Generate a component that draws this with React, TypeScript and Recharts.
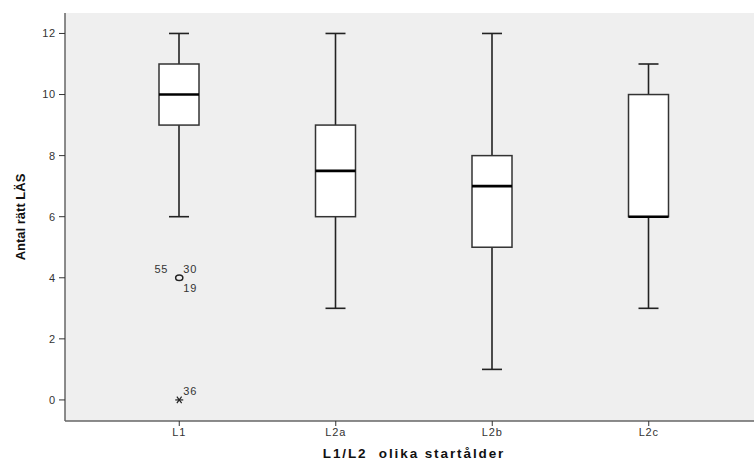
import { ComposedChart, Bar, Scatter, XAxis, YAxis, CartesianGrid } from 'recharts';

// SPSS-style boxplot: Antal rätt LÄS per startålder-grupp
const groups = ['L1', 'L2a', 'L2b', 'L2c'];
const whiskerLow = [6, 3, 1, 3];
const quart1 = [9, 6, 5, 6];
const medians = [10, 7.5, 7, 6];
const quart3 = [11, 9, 8, 10];
const whiskerHigh = [12, 12, 12, 11];
const outlierValues = [4, null, null, null];
const outlierCases = [['55', '30', '19'], [], [], []];
const extremeValues = [0, null, null, null];
const extremeCases = [['36'], [], [], []];
const yTicks = [0, 2, 4, 6, 8, 10, 12];

const data = groups.map((g, i) => ({
  group: g,
  range: [whiskerLow[i], whiskerHigh[i]],
  low: whiskerLow[i],
  q1: quart1[i],
  median: medians[i],
  q3: quart3[i],
  high: whiskerHigh[i],
  outlier: outlierValues[i],
  outlierCases: outlierCases[i],
  extreme: extremeValues[i],
  extremeCases: extremeCases[i],
}));

const font = '"Liberation Sans", Arial, sans-serif';
const ink = '#222';
const caseText = { fontFamily: font, fontSize: 11, fill: '#333', letterSpacing: 0.8 };

function BoxShape(props: any) {
  const { x, y, width, height, payload } = props;
  if (payload == null || !isFinite(y) || !isFinite(height)) return null;
  const top = Math.min(y, y + height);
  const bot = Math.max(y, y + height);
  const { low, high, q1, median, q3 } = payload;
  const px = (v: number) => top + ((high - v) / (high - low)) * (bot - top);
  const cx = x + width / 2;
  const capHalf = width / 4;
  return (
    <g>
      <line x1={cx} x2={cx} y1={px(high)} y2={px(q3)} stroke={ink} strokeWidth={1.6} />
      <line x1={cx} x2={cx} y1={px(q1)} y2={px(low)} stroke={ink} strokeWidth={1.6} />
      <line x1={cx - capHalf} x2={cx + capHalf} y1={px(high)} y2={px(high)} stroke={ink} strokeWidth={1.6} />
      <line x1={cx - capHalf} x2={cx + capHalf} y1={px(low)} y2={px(low)} stroke={ink} strokeWidth={1.6} />
      <rect x={x} y={px(q3)} width={width} height={px(q1) - px(q3)} fill="#fff" stroke="#333" strokeWidth={1.5} />
      <line x1={x} x2={x + width} y1={px(median)} y2={px(median)} stroke="#000" strokeWidth={2.6} />
    </g>
  );
}

function OutlierShape(props: any) {
  const { cx, cy, payload } = props;
  if (payload == null || payload.outlier == null || !isFinite(cy)) return null;
  const cases: string[] = payload.outlierCases || [];
  return (
    <g>
      <ellipse cx={cx} cy={cy} rx={3.6} ry={2.8} fill="none" stroke={ink} strokeWidth={1.5} />
      {cases[0] && <text {...caseText} x={cx - 11} y={cy - 9} textAnchor="end" dominantBaseline="central">{cases[0]}</text>}
      {cases[1] && <text {...caseText} x={cx + 4} y={cy - 9} textAnchor="start" dominantBaseline="central">{cases[1]}</text>}
      {cases[2] && <text {...caseText} x={cx + 4} y={cy + 10} textAnchor="start" dominantBaseline="central">{cases[2]}</text>}
    </g>
  );
}

function ExtremeShape(props: any) {
  const { cx, cy, payload } = props;
  if (payload == null || payload.extreme == null || !isFinite(cy)) return null;
  const cases: string[] = payload.extremeCases || [];
  const r = 4;
  return (
    <g>
      <line x1={cx - r} x2={cx + r} y1={cy} y2={cy} stroke={ink} strokeWidth={1.2} />
      <line x1={cx - r * 0.6} x2={cx + r * 0.6} y1={cy - r * 0.8} y2={cy + r * 0.8} stroke={ink} strokeWidth={1.2} />
      <line x1={cx - r * 0.6} x2={cx + r * 0.6} y1={cy + r * 0.8} y2={cy - r * 0.8} stroke={ink} strokeWidth={1.2} />
      {cases[0] && <text {...caseText} x={cx + 4} y={cy - 9} textAnchor="start" dominantBaseline="central">{cases[0]}</text>}
    </g>
  );
}

function YTitle(props: any) {
  const vb = props.viewBox || {};
  const cx = 20;
  const cy = (vb.y ?? 0) + (vb.height ?? 0) / 2;
  return (
    <text
      x={cx}
      y={cy}
      transform={`rotate(-90 ${cx} ${cy})`}
      textAnchor="middle"
      dominantBaseline="central"
      fontFamily={'"Liberation Sans Narrow", "Arial Narrow", "Liberation Sans", Arial, sans-serif'}
      fontWeight="bold"
      fontSize={13}
      fill="#111"
    >
      Antal rätt LÄS
    </text>
  );
}

export default function App() {
  return (
    <div style={{ position: 'fixed', left: 0, top: 0, width: 754, height: 461, overflow: 'hidden', background: '#fff' }}>
      <ComposedChart width={770} height={461} data={data} margin={{ top: 13, right: 7, bottom: 0, left: 0 }}>
        <CartesianGrid horizontal={false} vertical={false} fill="#EFEFEF" />
        <XAxis
          dataKey="group"
          type="category"
          padding={{ left: 36, right: 36 }}
          height={40}
          stroke="#555"
          tickSize={5}
          tickMargin={2}
          tick={{ fill: '#333', fontSize: 11, fontFamily: font, letterSpacing: 0.8 }}
          tickLine={{ stroke: '#333' }}
          axisLine={{ stroke: '#666', strokeWidth: 1.5 }}
          label={{
            value: 'L1/L2\u00A0\u00A0olika startålder',
            position: 'insideBottom',
            offset: 3,
            fill: '#111',
            fontSize: 13.5,
            fontWeight: 'bold',
            fontFamily: font,
            letterSpacing: 1.9,
          }}
        />
        <XAxis xAxisId="top" orientation="top" dataKey="group" height={0} tick={false} tickLine={false} axisLine={{ stroke: '#777', strokeWidth: 1.5 }} />
        <YAxis
          type="number"
          domain={[-0.69, 12.67]}
          ticks={yTicks}
          width={65}
          tickSize={6}
          tickMargin={3}
          tick={{ fill: '#333', fontSize: 11, fontFamily: font, letterSpacing: 0.8 }}
          tickLine={{ stroke: '#333' }}
          axisLine={{ stroke: '#666', strokeWidth: 1.5 }}
          label={<YTitle />}
        />
        <Bar dataKey="range" barSize={40} shape={<BoxShape />} isAnimationActive={false} />
        <Scatter dataKey="outlier" shape={<OutlierShape />} isAnimationActive={false} />
        <Scatter dataKey="extreme" shape={<ExtremeShape />} isAnimationActive={false} />
      </ComposedChart>
    </div>
  );
}
